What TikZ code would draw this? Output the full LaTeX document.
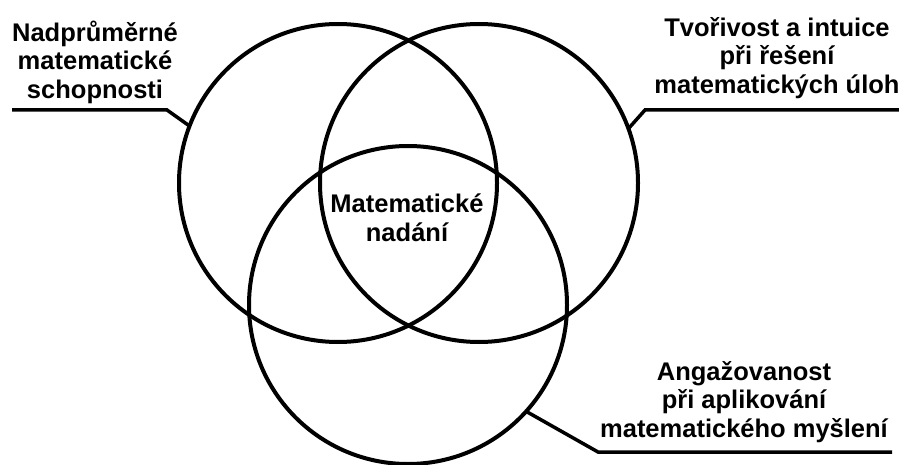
\documentclass[tikz,border=0pt]{standalone}
\usepackage{fontspec}
\setmainfont{Liberation Sans}
\usetikzlibrary{positioning}
\tikzset{
  venn/.style={circle,draw,line width=4pt,minimum size=318pt,inner sep=0pt,outer sep=0pt},
  venntext/.style={font=\bfseries\fontsize{25.5}{28.5}\selectfont,align=center,inner sep=0pt},
  leader/.style={line width=3.5pt}
}

\begin{document}
\begin{tikzpicture}[x=1pt,y=-1pt]
  \useasboundingbox (0,0) rectangle (899,465);

  % Kruhy
  \node[venn] (schopnosti) at (338,183) {};
  \node[venn] (tvorivost) at (479,183) {};
  \node[venn] (angazovanost) at (408,305) {};

  % Popisky
  \node[venntext] (schopnostitext) at (95,62)
    {Nadprůměrné\\matematické\\schopnosti};
  \node[venntext] (tvorivosttext) at (777,58)
    {Tvořivost a intuice\\při řešení\\matematických úloh};
  \node[venntext] (angazovanosttext) at (744,402)
    {Angažovanost\\při aplikování\\matematického myšlení};
  \node[venntext] (nadani) at (407,218)
    {Matematické\\nadání};

  % Vynášecí čáry
  \coordinate (schopnostizlom) at (167,110);
  \coordinate (schopnostikonec) at (12,110);
  \draw[leader] (schopnosti.159.5) -- (schopnostizlom) -- (schopnostikonec);

  \coordinate (tvorivostzlom) at (645,110);
  \coordinate (tvorivostkonec) at (899,110);
  \draw[leader] (tvorivost.20.5) -- (tvorivostzlom) -- (tvorivostkonec);

  \coordinate (angazovanostzlom) at (598,452);
  \coordinate (angazovanostkonec) at (892,452);
  \draw[leader] (angazovanost.-42.5) -- (angazovanostzlom) -- (angazovanostkonec);

\end{tikzpicture}
\end{document}
